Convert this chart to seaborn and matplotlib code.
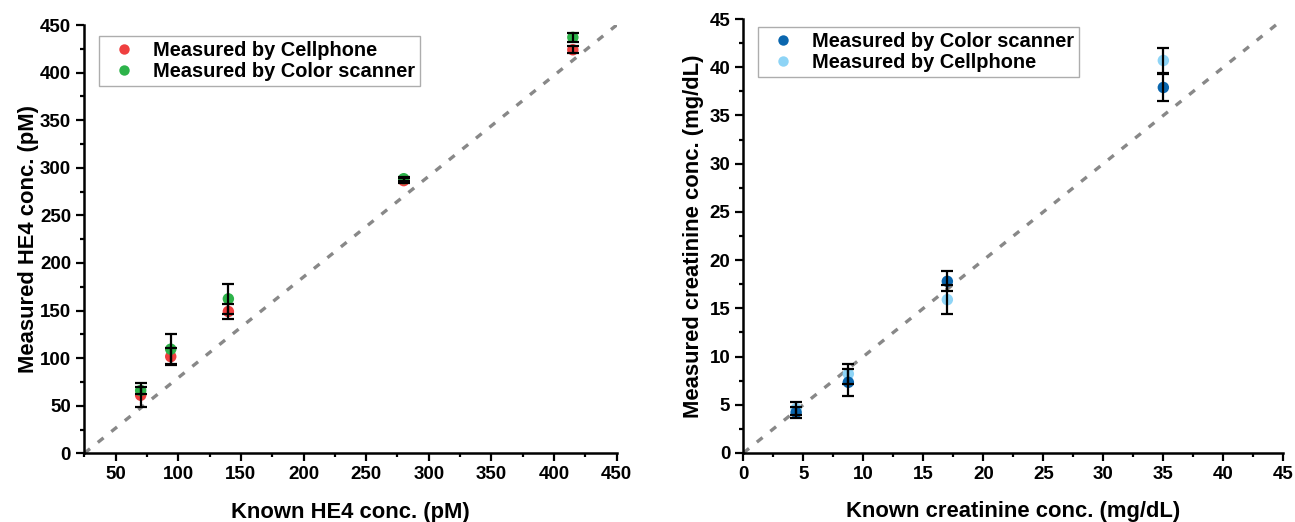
import matplotlib
matplotlib.use("Agg")
import matplotlib.pyplot as plt
import pandas as pd
import seaborn as sns
from matplotlib.lines import Line2D
from matplotlib.ticker import MultipleLocator

# HE4 panel: known vs measured concentration (pM)
he4_known = [70, 94, 140, 280, 415]
he4_cellphone = [61, 101.6, 149, 286.5, 424]
he4_cellphone_err = [12.5, 9.3, 7.6, 3, 3.5]
he4_scanner = [66, 109.4, 162.3, 288.5, 437]
he4_scanner_err = [4, 16, 15.7, 2, 5]

# Creatinine panel: known vs measured concentration (mg/dL)
crea_known = [4.4, 8.75, 17, 35]
crea_scanner = [4.2, 7.33, 17.8, 37.9]
crea_scanner_err = [0.55, 1.42, 1.05, 1.4]
crea_cellphone = [4.6, 8.2, 15.9, 40.7]
crea_cellphone_err = [0.65, 1.0, 1.5, 1.3]

RED = "#EF3F3F"
GREEN = "#2DB34A"
DARK_BLUE = "#0A66AE"
LIGHT_BLUE = "#8ED4F6"

TICK_FS = 13.5
LABEL_FS = 15.8
LEGEND_FS = 14.4

sns.set_theme(style="ticks")
plt.rcParams["font.family"] = ["Liberation Sans", "DejaVu Sans"]
plt.rcParams["font.weight"] = "bold"
plt.rcParams["axes.labelweight"] = "bold"
plt.rcParams["axes.linewidth"] = 1.8
plt.rcParams["text.color"] = "black"
plt.rcParams["axes.labelcolor"] = "black"
plt.rcParams["xtick.color"] = "black"
plt.rcParams["ytick.color"] = "black"

fig = plt.figure(figsize=(12.95, 5.22), dpi=100)
ax1 = fig.add_axes([0.0651, 0.1316, 0.4111, 0.8205])
ax2 = fig.add_axes([0.5740, 0.1322, 0.4170, 0.8314])


def series_frame(known, values, errs, label):
    return pd.DataFrame({"known": known, "measured": values, "err": errs, "method": label})


def draw_panel(ax, frames, palette, legend_order, anchor):
    df = pd.concat(frames, ignore_index=True)
    # diagonal reference line across the plotting area
    ax.plot([0, 1], [0, 1], transform=ax.transAxes, color="#888888", lw=2.4,
            dashes=(2.2, 3.0), zorder=1, solid_capstyle="butt")
    sns.scatterplot(data=df, x="known", y="measured", hue="method",
                    hue_order=list(palette.keys()), palette=palette,
                    s=68, edgecolor="none", linewidth=0, legend=False,
                    ax=ax, zorder=2)
    for _, grp in df.groupby("method", sort=False):
        ax.errorbar(grp["known"], grp["measured"], yerr=grp["err"], fmt="none",
                    ecolor="black", elinewidth=1.6, capsize=4.0, capthick=1.6,
                    zorder=3)
    handles = [Line2D([], [], marker="o", linestyle="none", markersize=7.5,
                      markerfacecolor=palette[name], markeredgecolor="none",
                      label=name) for name in legend_order]
    leg = ax.legend(handles=handles, loc="upper left", bbox_to_anchor=anchor,
                    frameon=True, fancybox=False, fontsize=LEGEND_FS,
                    handlelength=2.0, handletextpad=0.45, borderpad=0.25,
                    labelspacing=0.1, borderaxespad=0)
    leg.get_frame().set_edgecolor("#999999")
    leg.get_frame().set_linewidth(1.0)
    for t in leg.get_texts():
        t.set_fontweight("bold")
        t.set_color("black")
    return leg


def style_axes(ax):
    sns.despine(ax=ax)
    ax.tick_params(axis="both", which="major", direction="out", length=5.5,
                   width=1.6, labelsize=TICK_FS, pad=4, color="black",
                   labelcolor="black")
    ax.tick_params(axis="both", which="minor", direction="out", length=3,
                   width=1.6, color="black")
    for lab in ax.get_xticklabels() + ax.get_yticklabels():
        lab.set_fontweight("bold")
    for s in ("left", "bottom"):
        ax.spines[s].set_color("black")


draw_panel(
    ax1,
    [series_frame(he4_known, he4_cellphone, he4_cellphone_err, "Measured by Cellphone"),
     series_frame(he4_known, he4_scanner, he4_scanner_err, "Measured by Color scanner")],
    {"Measured by Cellphone": RED, "Measured by Color scanner": GREEN},
    ["Measured by Cellphone", "Measured by Color scanner"],
    (0.0276, 0.975),
)
ax1.set_xlim(25, 450)
ax1.set_ylim(0, 450)
ax1.set_xticks(range(50, 451, 50))
ax1.set_yticks(range(0, 451, 50))
ax1.xaxis.set_minor_locator(MultipleLocator(25))
ax1.yaxis.set_minor_locator(MultipleLocator(25))
ax1.set_xlabel("Known HE4 conc. (pM)", fontsize=LABEL_FS, fontweight="bold", labelpad=13)
ax1.set_ylabel("Measured HE4 conc. (pM)", fontsize=LABEL_FS, fontweight="bold", labelpad=1)
style_axes(ax1)

draw_panel(
    ax2,
    [series_frame(crea_known, crea_cellphone, crea_cellphone_err, "Measured by Cellphone"),
     series_frame(crea_known, crea_scanner, crea_scanner_err, "Measured by Color scanner")],
    {"Measured by Cellphone": LIGHT_BLUE, "Measured by Color scanner": DARK_BLUE},
    ["Measured by Color scanner", "Measured by Cellphone"],
    (0.0267, 0.981),
)
ax2.set_xlim(0, 45)
ax2.set_ylim(0, 45)
ax2.set_xticks(range(0, 46, 5))
ax2.set_yticks(range(0, 46, 5))
ax2.xaxis.set_minor_locator(MultipleLocator(2.5))
ax2.yaxis.set_minor_locator(MultipleLocator(2.5))
ax2.set_xlabel("Known creatinine conc. (mg/dL)", fontsize=LABEL_FS, fontweight="bold", labelpad=13)
ax2.set_ylabel("Measured creatinine conc. (mg/dL)", fontsize=LABEL_FS, fontweight="bold", labelpad=4)
style_axes(ax2)

fig.savefig("out.png", dpi=100, facecolor="white")
